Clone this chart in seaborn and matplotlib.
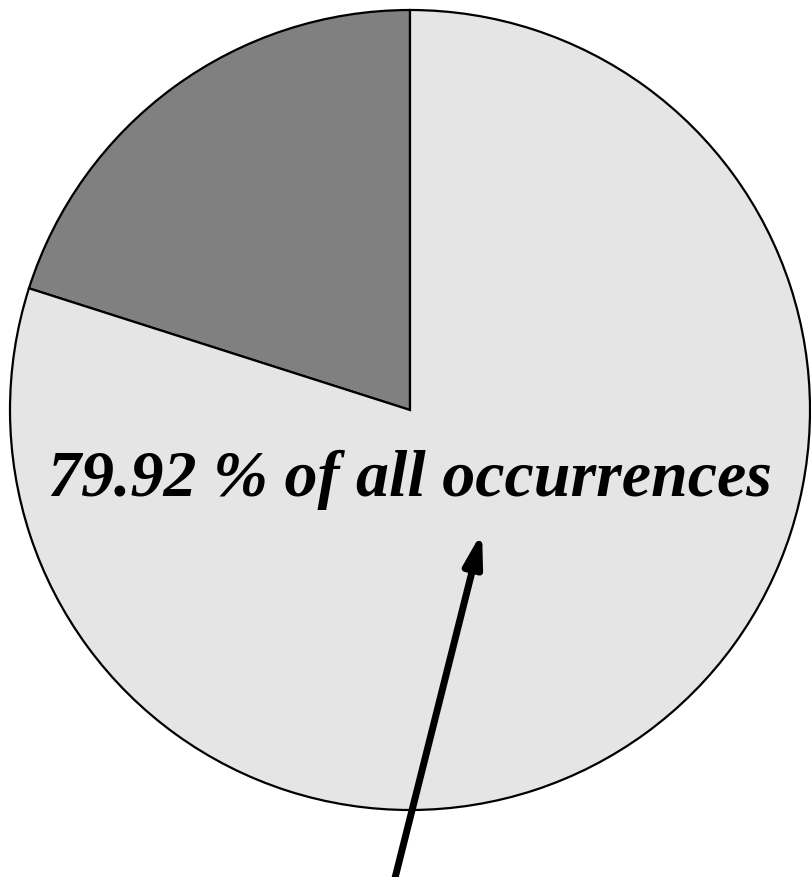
import matplotlib
matplotlib.use("Agg")
import matplotlib.pyplot as plt
import seaborn as sns

sns.set_theme(style="white")

labels = ["other", "occurrences"]
shares = [20.08, 79.92]
colors = ["#808080", "#e5e5e5"]
label_text = "79.92 % of all occurrences"

fig = plt.figure(figsize=(8.11, 8.77), dpi=100)
ax = fig.add_axes([0, 0, 1, 1])
ax.pie(shares, colors=colors, startangle=90, counterclock=True,
       radius=1.0, center=(0, 0),
       wedgeprops=dict(edgecolor="black", linewidth=1.6))
ax.set_xlim(-410 / 400, 401 / 400)
ax.set_ylim(-467 / 400, 410 / 400)
ax.set_aspect("auto")
ax.axis("off")

ax.text(0.0, -0.215, label_text, ha="center", va="baseline", color="black",
        fontsize=47.5, fontweight="bold", fontstyle="italic",
        family=["Liberation Serif", "DejaVu Serif"])

ax.annotate("", xy=(0.18, -0.305), xytext=(-0.0375, -1.17),
            arrowprops=dict(arrowstyle="-|>,head_length=1.6,head_width=0.45",
                            color="black", lw=5, shrinkA=0, shrinkB=0),
            annotation_clip=False)

fig.savefig("out.png", dpi=100)
